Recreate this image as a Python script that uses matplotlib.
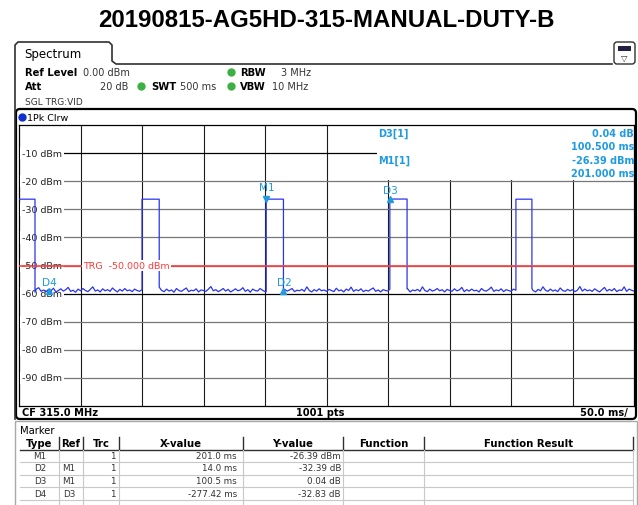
import numpy as np
import matplotlib
matplotlib.use('Agg')
import matplotlib.pyplot as plt
from matplotlib.patches import Rectangle, FancyBboxPatch

plt.rcParams['font.family'] = 'DejaVu Sans'

# ── Data ─────────────────────────────────────────────────────────────────────
TITLE = '20190815-AG5HD-315-MANUAL-DUTY-B'

x_ticks = [50, 100, 150, 200, 250, 300, 350, 400, 450]          # ms
y_ticks = [-10, -20, -30, -40, -50, -60, -70, -80, -90]         # dBm
y_labels = ['-10 dBm', '-20 dBm', '-30 dBm', '-40 dBm', '-50 dBm',
            '-60 dBm', '-70 dBm', '-80 dBm', '-90 dBm']

# bursts (ms, dBm)
pulse_start = [0.0, 100.0, 201.0, 301.5, 404.0]
pulse_stop  = [13.0, 114.0, 215.0, 315.5, 417.0]
pulse_dbm   = [-26.40, -26.40, -26.39, -26.35, -26.40]

# noise floor, one reading every 2 ms from 0 to 500 ms
noise_dbm = [
    -59.1, -58.6, -59.4, -58.2, -59.0, -58.8, -59.5, -58.4, -57.9, -59.2, -58.7, -59.3, -58.5, -59.0, -58.1, -59.4, -58.9, -58.3, -59.1, -58.6, -57.8, -59.2, -58.8, -59.5, -58.4,
    -59.0, -58.2, -58.9, -59.3, -58.5, -57.6, -59.1, -58.7, -59.4, -58.3, -59.0, -58.6, -59.2, -58.0, -58.8, -59.4, -58.5, -59.1, -58.2, -59.0, -58.7, -59.3, -58.4, -58.9, -59.2,
    -58.6, -59.4, -58.8, -58.1, -59.2, -58.5, -59.0, -57.7, -58.9, -59.3, -58.4, -59.1, -58.7, -59.5, -58.2, -58.9, -59.2, -58.6, -58.0, -59.3, -58.8, -59.0, -58.3, -59.4, -58.7,
    -58.9, -59.2, -58.4, -57.5, -59.0, -58.6, -59.3, -58.8, -58.2, -59.1, -58.5, -59.4, -58.9, -58.3, -59.0, -58.7, -57.9, -59.2, -58.6, -59.5, -58.4, -58.9, -59.1, -58.2, -58.8,
    -59.3, -58.6, -59.0, -58.4, -59.2, -57.8, -58.9, -59.4, -58.5, -59.1, -58.7, -58.2, -59.3, -58.8, -59.0, -58.5, -59.2, -57.6, -58.9, -59.4, -58.6, -59.1, -58.3, -59.0, -58.7,
    -59.2, -58.5, -58.9, -59.3, -58.1, -59.0, -58.7, -59.4, -58.4, -58.9, -57.7, -59.2, -58.6, -59.0, -58.3, -59.3, -58.8, -59.1, -58.5, -58.0, -59.2, -58.7, -59.4, -58.6, -58.9,
    -59.1, -58.4, -59.3, -58.8, -57.9, -59.0, -58.6, -59.2, -58.3, -59.4, -58.7, -59.0, -58.5, -59.2, -57.6, -58.9, -59.3, -58.4, -59.1, -58.8, -58.2, -59.0, -58.6, -59.4, -58.5,
    -58.9, -59.2, -58.3, -59.0, -58.7, -57.8, -59.3, -58.6, -59.1, -58.4, -59.0, -58.8, -59.4, -58.2, -58.9, -59.1, -58.5, -57.7, -59.2, -58.7, -59.0, -58.3, -59.3, -58.6, -58.9,
    -59.2, -58.4, -58.8, -59.0, -57.9, -59.3, -58.6, -59.1, -58.2, -58.9, -59.4, -58.5, -59.0, -57.6, -58.8, -59.2, -58.4, -59.1, -58.7, -59.3, -58.0, -58.9, -59.2, -58.5, -59.0,
    -58.6, -59.3, -58.8, -57.5, -59.1, -58.4, -59.0, -58.7, -59.2, -58.3, -58.9, -59.4, -58.6, -57.8, -59.1, -58.5, -59.0, -58.2, -59.3, -58.7, -58.9, -57.6, -59.2, -58.4, -58.8,
    -59.1,
]

trig_dbm = -50.0

# markers on the trace
mk_names = ['M1', 'D2', 'D3', 'D4']
mk_x     = [201.0, 215.0, 301.5, 24.08]
mk_y     = [-26.39, -59.2, -26.35, -59.2]

# marker table
tbl_type = ['M1', 'D2', 'D3', 'D4']
tbl_ref  = ['', 'M1', 'M1', 'D3']
tbl_trc  = ['1', '1', '1', '1']
tbl_x    = ['201.0 ms', '14.0 ms', '100.5 ms', '-277.42 ms']
tbl_y    = ['-26.39 dBm', '-32.39 dB', '0.04 dB', '-32.83 dB']
tbl_cols = ['Type', 'Ref', 'Trc', 'X-value', 'Y-value', 'Function', 'Function Result']

# marker info box (upper right)
info_left  = ['D3[1]', '', 'M1[1]', '']
info_right = ['0.04 dB', '100.500 ms', '-26.39 dBm', '201.000 ms']

# ── Colours ──────────────────────────────────────────────────────────────────
TRACE = '#2b35ee'
MKCOL = '#1f9be0'
RED = '#ff3b3b'
GREEN = '#3cb043'

W, H = 638, 506
fig = plt.figure(figsize=(W / 100, H / 100), dpi=100)

# background layer in pixel coordinates
bg = fig.add_axes([0, 0, 1, 1])
bg.set_xlim(0, W); bg.set_ylim(H, 0); bg.axis('off')

bg.text(W / 2 + 7, 20, TITLE, ha='center', va='center', fontsize=17.3,
        fontweight='bold', family='Liberation Sans')

# "Spectrum" tab + header
bg.plot([15, 15, 18, 109, 112, 112, 116, 612],
        [420, 46, 43, 43, 46, 62, 65, 65], color='#303030', lw=1.2)
bg.text(24, 54, 'Spectrum', fontsize=8.5, va='center')
icon = FancyBboxPatch((614, 43), 21, 22, boxstyle='round,pad=0,rounding_size=3',
                      fc='white', ec='#303030', lw=1)
bg.add_patch(icon)
bg.add_patch(Rectangle((618, 47), 13, 5, fc='#202040', ec='none'))
bg.text(624.5, 58, '▽', fontsize=6, ha='center', va='center', color='#303030')

bg.text(25, 73, 'Ref Level', fontsize=7.2, fontweight='bold', va='center')
bg.text(83, 73, '0.00 dBm', fontsize=7, va='center', color='#333333')
bg.text(25, 87, 'Att', fontsize=7.2, fontweight='bold', va='center')
bg.text(128, 87, '20 dB', fontsize=7, va='center', ha='right', color='#333333')
bg.plot([231, 141, 231], [73, 87, 87], 'o', ms=5, color=GREEN)
bg.text(240, 73, 'RBW', fontsize=7.2, fontweight='bold', va='center')
bg.text(281, 73, '3 MHz', fontsize=7, va='center', color='#333333')
bg.text(151, 87, 'SWT', fontsize=7.2, fontweight='bold', va='center')
bg.text(180, 87, '500 ms', fontsize=7, va='center', color='#333333')
bg.text(240, 87, 'VBW', fontsize=7.2, fontweight='bold', va='center')
bg.text(272, 87, '10 MHz', fontsize=7, va='center', color='#333333')
bg.text(25, 102, 'SGL TRG:VID', fontsize=6.5, va='center', color='#333333')

# diagram frame
frame = FancyBboxPatch((16, 110), 620, 310, boxstyle='round,pad=0,rounding_size=4',
                       fc='white', ec='black', lw=1.6)
bg.add_patch(frame)
bg.plot([22], [118], 'o', ms=5, color='#1030d0')
bg.text(27, 118, '1Pk Clrw', fontsize=6.8, va='center')
bg.text(22, 413.5, 'CF 315.0 MHz', fontsize=7.1, fontweight='bold', va='center')
bg.text(320, 413.5, '1001 pts', fontsize=7.1, fontweight='bold', va='center', ha='center')
bg.text(628, 413.5, '50.0 ms/', fontsize=7.1, fontweight='bold', va='center', ha='right')

# marker panel
bg.add_patch(Rectangle((15, 422), 622, 86, fc='white', ec='#a8a8a8', lw=1))
bg.text(20, 431, 'Marker', fontsize=7.2, va='center')
col_edges = [20, 59, 83, 119, 243, 343, 424, 633]
head_y, row_y = 444, [456.5, 469, 482, 494.5]
for i, name in enumerate(tbl_cols):
    bg.text((col_edges[i] + col_edges[i + 1]) / 2, head_y, name, fontsize=7.3,
            fontweight='bold', ha='center', va='center')
for xe in col_edges[1:]:
    bg.plot([xe, xe], [438, 450], color='#303030', lw=1)
bg.plot([20, 633], [450.5, 450.5], color='#303030', lw=1)
for yl in [463, 475.5, 488, 501]:
    bg.plot([20, 633], [yl, yl], color='#c8c8c8', lw=0.8)
for xe in col_edges[1:]:
    bg.plot([xe, xe], [451, 506], color='#c8c8c8', lw=0.8)
for r in range(len(tbl_type)):
    y = row_y[r]
    kw = dict(fontsize=6.3, va='center', color='#333333')
    bg.text(40, y, tbl_type[r], ha='center', **kw)
    bg.text(69, y, tbl_ref[r], ha='center', **kw)
    bg.text(116, y, tbl_trc[r], ha='right', **kw)
    bg.text(237, y, tbl_x[r], ha='right', **kw)
    bg.text(341, y, tbl_y[r], ha='right', **kw)

# ── Diagram ──────────────────────────────────────────────────────────────────
ax = fig.add_axes([19 / W, 1 - 407 / H, 615 / W, 281 / H])
ax.set_xlim(0, 500); ax.set_ylim(-100, 0)
ax.set_xticks([]); ax.set_yticks([])
for s in ax.spines.values():
    s.set_color('black'); s.set_linewidth(0.9)

for xv in x_ticks:
    ax.axvline(xv, color='#1c1c1c', lw=0.8, zorder=1)
for yv in y_ticks:
    ax.axhline(yv, color='black' if yv in (-10, -60) else '#777777', lw=0.9, zorder=1)

# white area for the marker readout covers the upper right grid
ax.add_patch(Rectangle((291, -19.6), 209, 19.6, fc='white', ec='none', zorder=2))

for yv, lab in zip(y_ticks, y_labels):
    ax.text(2.4, yv, lab, fontsize=6.8, va='center', ha='left', color='#222222',
            bbox=dict(fc='white', ec='none', pad=1.2), zorder=3)

# build trace from noise floor and bursts
t_noise = np.linspace(0, 500, len(noise_dbm))
pts = []
for t, v in zip(t_noise, noise_dbm):
    if not any(s <= t <= e for s, e in zip(pulse_start, pulse_stop)):
        pts.append((t, v))
for s, e, lvl in zip(pulse_start, pulse_stop, pulse_dbm):
    if s > 0:
        pts.append((s, noise_dbm[int(round(s / 2))]))
    pts += [(s, lvl), (e, lvl), (e, noise_dbm[int(round(e / 2))])]
pts.sort(key=lambda p: p[0])
tr_x = [p[0] for p in pts]
tr_y = [p[1] for p in pts]
ax.plot(tr_x, tr_y, color=TRACE, lw=0.9, zorder=4)

ax.axhline(trig_dbm, color=RED, lw=1.2, zorder=5)
ax.text(52, trig_dbm, f'TRG  {trig_dbm:.3f} dBm', color=RED, fontsize=6.8,
        va='center', ha='left', bbox=dict(fc='white', ec='none', pad=0.8), zorder=6)

# markers
for name, mx, my in zip(mk_names, mk_x, mk_y):
    down = name == 'M1'
    ax.plot(mx, my, marker='v' if down else '^', ms=5, color=MKCOL, zorder=7)
    ax.annotate(name, (mx, my), xytext=(1, 12 if down else 9),
                textcoords='offset pixels', color=MKCOL, fontsize=7.6,
                ha='center', va='center', zorder=8)

# marker readout text
fg = fig.add_axes([0, 0, 1, 1])
fg.set_xlim(0, W); fg.set_ylim(H, 0); fg.axis('off')
for i, (l, r) in enumerate(zip(info_left, info_right)):
    y = 134 + i * 13.3
    if l:
        fg.text(378, y, l, color=MKCOL, fontsize=7, fontweight='bold', va='center')
    fg.text(634, y, r, color=MKCOL, fontsize=7, fontweight='bold', va='center', ha='right')

fig.savefig('out.png', dpi=100)
